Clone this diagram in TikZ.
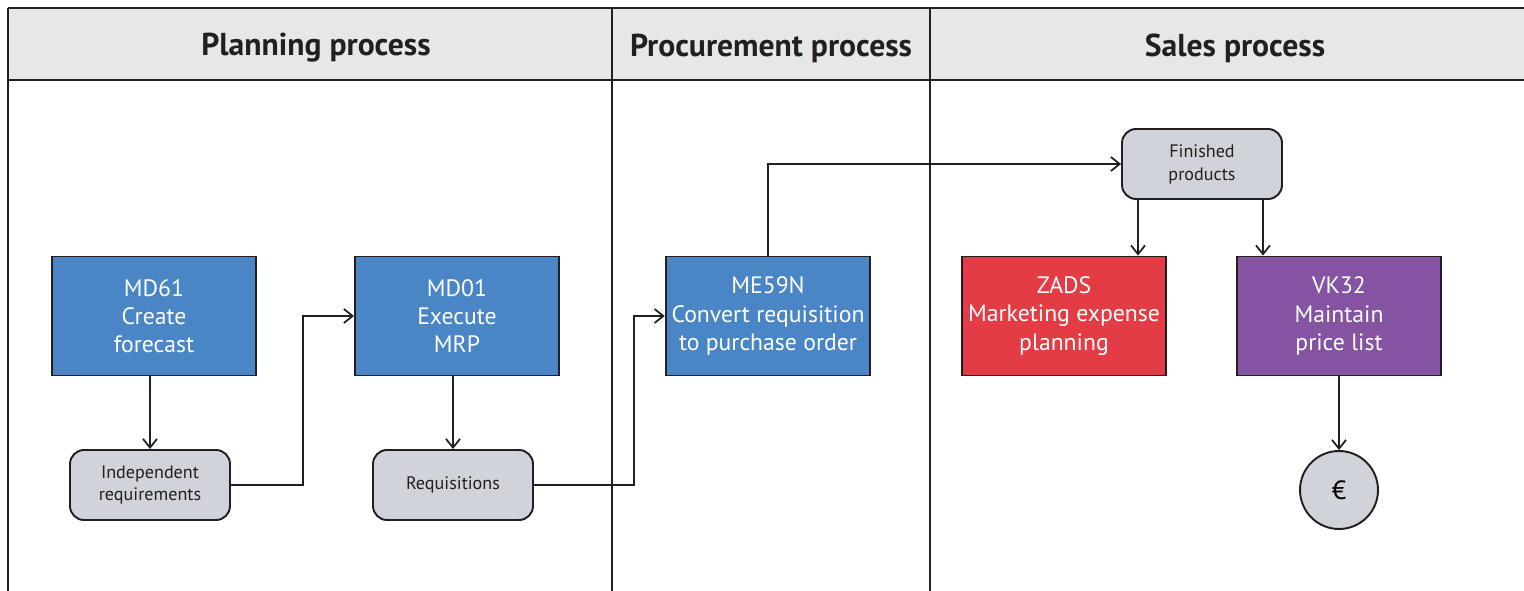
\documentclass[tikz,border=0pt]{standalone}
\usepackage{fontspec}
\setmainfont{PT Sans}
\usetikzlibrary{arrows.meta}

\definecolor{laneGrey}{RGB}{230,231,232}
\definecolor{lineDark}{RGB}{35,31,32}
\definecolor{taskBlue}{RGB}{74,134,197}
\definecolor{taskRed}{RGB}{228,60,68}
\definecolor{taskPurple}{RGB}{132,84,162}
\definecolor{dataGrey}{RGB}{209,211,218}

\tikzset{
  task/.style={draw=lineDark,line width=1.1pt,minimum width=4.08cm,minimum height=2.38cm,
    align=center,text=white,font=\fontsize{13.5}{16}\selectfont},
  dataobj/.style={draw=lineDark,line width=1.1pt,fill=dataGrey,rounded corners=0.28cm,
    minimum width=3.2cm,minimum height=1.4cm,align=center,text=lineDark,
    font=\fontsize{10.3}{13}\selectfont},
  lanehead/.style={font=\bfseries\fontsize{18}{21}\selectfont,text=lineDark},
  flow/.style={draw=lineDark,line width=1pt,-{Straight Barb[length=5pt,width=8pt,line width=1pt]}}
}

\begin{document}
\begin{tikzpicture}[x=0.02cm,y=-0.02cm]
\useasboundingbox (0,0) rectangle (1524,591);

% Swimlane header and dividers
\fill[laneGrey] (8,8) rectangle (1524,80);
\draw[lineDark,line width=1.6pt] (8,8) -- (1524,8);
\draw[lineDark,line width=1.6pt] (8,80) -- (1524,80);
\draw[lineDark,line width=1.1pt] (8,8) -- (8,591);
\draw[lineDark,line width=1.1pt] (612,8) -- (612,591);
\draw[lineDark,line width=1.1pt] (930,8) -- (930,591);
\node[lanehead] (hplan) at (316,48) {Planning process};
\node[lanehead] (hproc) at (771,48) {Procurement process};
\node[lanehead] (hsales) at (1235,48) {Sales process};

% Planning process
\node[task,fill=taskBlue] (md61) at (154,316) {MD61\\Create\\forecast};
\node[task,fill=taskBlue] (md01) at (457,316) {MD01\\Execute\\MRP};
\node[dataobj] (indep) at (150,485) {Independent\\requirements};
\node[dataobj] (req) at (453,485) {Requisitions};

% Procurement process
\node[task,fill=taskBlue] (me59n) at (768,316) {ME59N\\Convert requisition\\to purchase order};

% Sales process
\node[dataobj] (fin) at (1202,164) {Finished\\products};
\node[task,fill=taskRed] (zads) at (1064,316) {ZADS\\Marketing expense\\planning};
\node[task,fill=taskPurple] (vk32) at (1339,316) {VK32\\Maintain\\price list};
\node[draw=lineDark,line width=1.1pt,fill=dataGrey,circle,minimum size=1.56cm,
  font=\fontsize{15}{16}\selectfont] (euro) at (1339,490) {€};

% Flows
\draw[flow] (indep.north |- md61.south) -- (indep.north);
\draw[flow] (indep.east) -- ++(72,0) |- (md01.west);
\draw[flow] (req.north |- md01.south) -- (req.north);
\draw[flow] (req.east) -- ++(100,0) |- (me59n.west);
\draw[flow] (me59n.north) |- (fin.west);
\draw[flow] ([xshift=-1.28cm]fin.south) -- ([xshift=-1.28cm]fin.south |- zads.north);
\draw[flow] ([xshift=1.22cm]fin.south) -- ([xshift=1.22cm]fin.south |- vk32.north);
\draw[flow] (vk32) -- (euro);

\end{tikzpicture}
\end{document}
